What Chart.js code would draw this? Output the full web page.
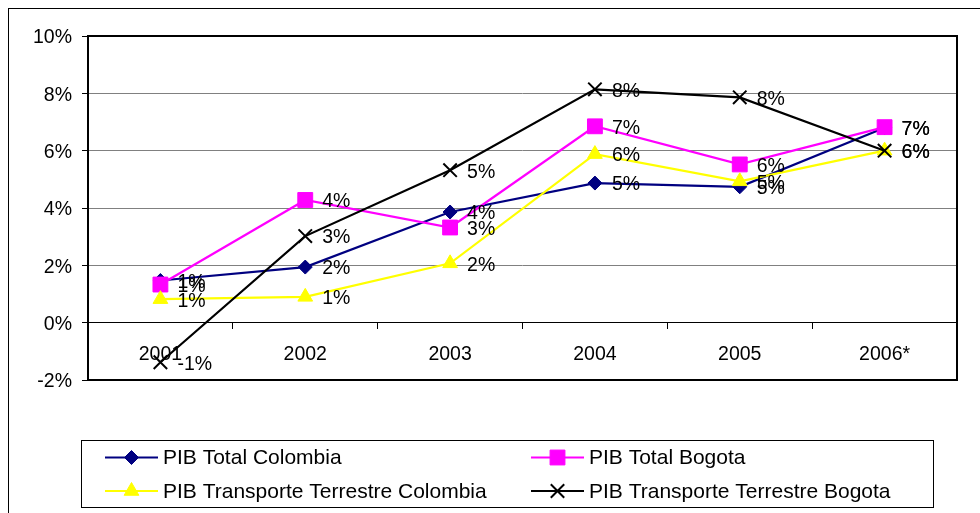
<!DOCTYPE html>
<html>
<head>
<meta charset="utf-8">
<script src="https://cdn.jsdelivr.net/npm/chart.js@4"></script>
<style>
  html, body { margin: 0; padding: 0; background: #fff; }
  #wrap { width: 980px; height: 513px; }
</style>
</head>
<body>
<div id="wrap"><canvas id="c" width="980" height="513"></canvas></div>
<script>
// Crecimiento anual del PIB (%)
const years = ['2001', '2002', '2003', '2004', '2005', '2006*'];
const pibTotalColombia = [1.47, 1.94, 3.86, 4.87, 4.74, 6.80];
const pibTotalBogota = [1.33, 4.28, 3.32, 6.85, 5.52, 6.82];
const pibTransporteColombia = [0.82, 0.90, 2.07, 5.88, 4.93, 6.00];
const pibTransporteBogota = [-1.38, 3.02, 5.32, 8.14, 7.86, 6.00];
const yTickValues = [-2, 0, 2, 4, 6, 8, 10];
const seriesNames = [
  'PIB Total Colombia',
  'PIB Total Bogota',
  'PIB Transporte Terrestre Colombia',
  'PIB Transporte Terrestre Bogota'
];

const FONT = 'Liberation Sans, Arial, Helvetica, sans-serif';

// Outer frame of the chart object (only its left/top edges fall inside the canvas)
const frame = {
  id: 'frame',
  beforeDraw(chart) {
    const ctx = chart.ctx;
    ctx.save();
    ctx.fillStyle = '#fff';
    ctx.fillRect(0, 0, chart.width, chart.height);
    ctx.strokeStyle = '#000';
    ctx.lineWidth = 1;
    ctx.strokeRect(8.5, 8.5, chart.width + 100, chart.height + 100);
    ctx.restore();
  },
  beforeDatasetsDraw(chart) {
    const a = chart.chartArea;
    const ctx = chart.ctx;
    ctx.save();
    ctx.strokeStyle = '#000';
    ctx.lineWidth = 2;
    ctx.strokeRect(a.left, a.top, a.right - a.left, a.bottom - a.top);
    ctx.restore();
  }
};

// Value labels to the right of every point
const valueLabels = {
  id: 'valueLabels',
  afterDatasetsDraw(chart) {
    const ctx = chart.ctx;
    ctx.save();
    ctx.font = '19.5px ' + FONT;
    ctx.fillStyle = '#000';
    ctx.textAlign = 'left';
    ctx.textBaseline = 'middle';
    chart.data.datasets.forEach((ds, i) => {
      const meta = chart.getDatasetMeta(i);
      meta.data.forEach((pt, j) => {
        ctx.fillText(Math.round(ds.data[j]) + '%', pt.x + 17, pt.y + 2);
      });
    });
    ctx.restore();
  }
};

// Boxed two-column legend under the plot
const boxedLegend = {
  id: 'boxedLegend',
  afterDraw(chart) {
    const ctx = chart.ctx;
    const box = { x: 81.5, y: 440.5, w: 852, h: 67 };
    const cols = [105, 531];
    const rows = [457.5, 491];
    ctx.save();
    ctx.strokeStyle = '#000';
    ctx.lineWidth = 1;
    ctx.strokeRect(box.x, box.y, box.w, box.h);
    ctx.font = '21px ' + FONT;
    ctx.textAlign = 'left';
    ctx.textBaseline = 'middle';
    chart.data.datasets.forEach((ds, i) => {
      const x = cols[i % 2];
      const y = rows[Math.floor(i / 2)];
      ctx.strokeStyle = ds.borderColor;
      ctx.lineWidth = 2;
      ctx.beginPath();
      ctx.moveTo(x, y);
      ctx.lineTo(x + 53, y);
      ctx.stroke();
      ctx.fillStyle = ds.pointBackgroundColor;
      ctx.strokeStyle = ds.pointBorderColor;
      ctx.lineWidth = ds.pointBorderWidth;
      Chart.helpers.drawPoint(ctx, {
        pointStyle: ds.pointStyle,
        radius: ds.pointRadius,
        rotation: 0,
        borderWidth: ds.pointBorderWidth
      }, x + 26.5, y);
      ctx.fillStyle = '#000';
      ctx.fillText(ds.label, x + 58, y + 1);
    });
    ctx.restore();
  }
};

function series(label, data, color, style, radius, order) {
  return {
    label, data, order,
    borderColor: color,
    backgroundColor: color,
    borderWidth: 2.2,
    tension: 0,
    pointStyle: style,
    pointRadius: radius,
    pointHoverRadius: radius,
    pointBackgroundColor: color,
    pointBorderColor: color,
    pointBorderWidth: style === 'crossRot' ? 2 : 1
  };
}

new Chart(document.getElementById('c'), {
  type: 'line',
  data: {
    labels: years,
    datasets: [
      series(seriesNames[0], pibTotalColombia, '#000080', 'rectRot', 7, 3),
      series(seriesNames[1], pibTotalBogota, '#FF00FF', 'rect', 10.5, 2),
      series(seriesNames[2], pibTransporteColombia, '#FFFF00', 'triangle', 8.5, 1),
      series(seriesNames[3], pibTransporteBogota, '#000000', 'crossRot', 9.5, 0)
    ]
  },
  options: {
    responsive: false,
    animation: false,
    devicePixelRatio: 1,
    layout: { padding: { left: 0, top: 36, right: 23, bottom: 133 } },
    plugins: { legend: { display: false }, tooltip: { enabled: false } },
    scales: {
      x: {
        type: 'category',
        position: { y: 0 },
        offset: true,
        grid: {
          offset: true,
          drawOnChartArea: false,
          drawTicks: true,
          tickLength: 6,
          color: '#000',
          lineWidth: 1
        },
        border: { display: true, color: '#000', width: 1 },
        ticks: {
          font: { family: FONT, size: 19.5 },
          color: '#000',
          padding: 14,
          maxRotation: 0,
          autoSkip: false
        }
      },
      y: {
        min: -2,
        max: 10,
        afterBuildTicks(scale) {
          scale.ticks = yTickValues.map(v => ({ value: v }));
        },
        afterFit(scale) { scale.width = 88; },
        ticks: {
          font: { family: FONT, size: 19.5 },
          color: '#000',
          padding: 10,
          labelOffset: 2,
          callback: v => v + '%'
        },
        grid: {
          color: '#808080',
          tickColor: '#000',
          tickLength: 6,
          lineWidth: 1
        },
        border: { display: false }
      }
    }
  },
  plugins: [frame, valueLabels, boxedLegend]
});
</script>
</body>
</html>
